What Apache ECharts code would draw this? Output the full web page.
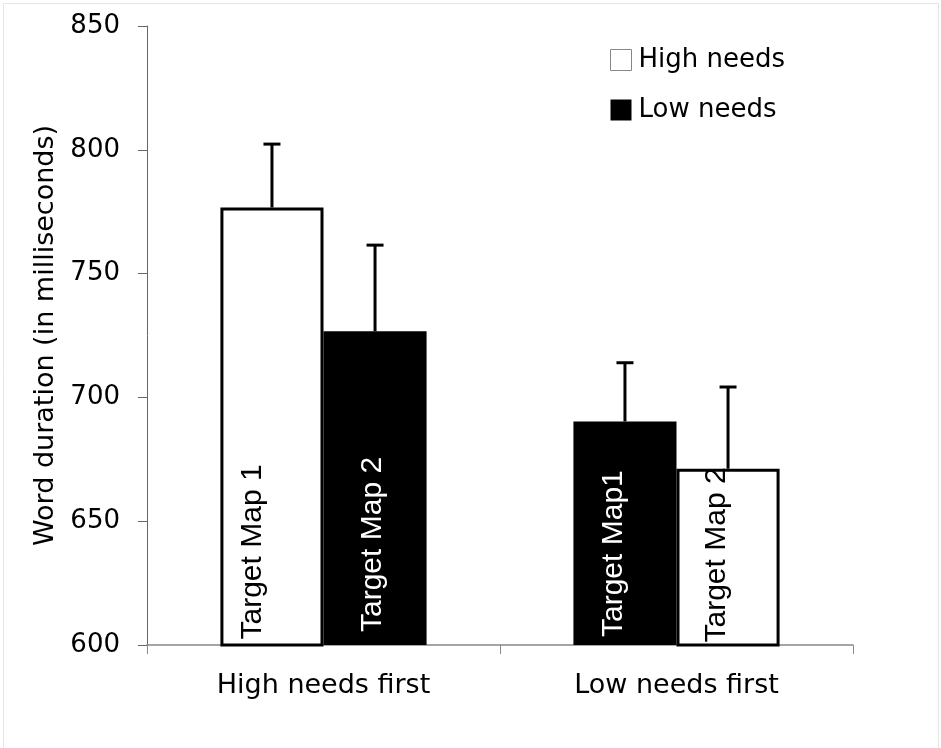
<!DOCTYPE html>
<html>
<head>
<meta charset="utf-8">
<script src="https://cdn.jsdelivr.net/npm/echarts@6/dist/echarts.min.js"></script>
<style>
html,body{margin:0;padding:0;background:#fff;}
#chart{width:941px;height:748px;}
</style>
</head>
<body>
<div id="chart"></div>
<script>
// ---- data ----
var categories = ['High needs first', 'Low needs first'];
var legendNames = ['High needs', 'Low needs'];
// left bar in each group (Target Map 1) and right bar (Target Map 2)
var map1Values = [776.7, 690.3];
var map1ErrTop = [802.3, 714.0];
var map1Group = ['High needs', 'Low needs'];
var map1Labels = ['Target Map 1', 'Target Map1'];
var map2Values = [726.7, 671.2];
var map2ErrTop = [761.5, 704.2];
var map2Group = ['Low needs', 'High needs'];
var map2Labels = ['Target Map 2', 'Target Map 2'];
var yTicks = [600, 650, 700, 750, 800, 850];

// ---- styles ----
var FONT = 'DejaVu Sans';
var LABEL_FONT = 'Liberation Sans';
var BAR_W = 0.292;
var fillFor = { 'High needs': '#ffffff', 'Low needs': '#000000' };
var textFor = { 'High needs': '#000000', 'Low needs': '#ffffff' };
// label nudges: [along text (up), across text (right)]
var map1Nudge = [[7, -19], [8, -11]];
var map2Nudge = [[13, -2], [4, -11]];

function barItems(values, groups, labels, nudges) {
  return values.map(function (v, i) {
    var g = groups[i];
    return {
      value: v,
      itemStyle: {
        color: fillFor[g],
        borderColor: '#000',
        borderWidth: g === 'High needs' ? 3 : 0
      },
      label: {
        formatter: labels[i],
        color: textFor[g],
        offset: nudges[i]
      }
    };
  });
}

function errItems(values, tops, side) {
  return values.map(function (v, i) { return [i, v, tops[i], side]; });
}

function renderErr(params, api) {
  var cat = api.value(0);
  var base = api.coord([cat, api.value(1)]);
  var top = api.coord([cat, api.value(2)]);
  var band = api.size([1, 0])[0];
  var side = api.value(3);
  var x = base[0] + side * band * BAR_W / 2;
  var style = { stroke: '#000', lineWidth: 3 };
  return {
    type: 'group',
    children: [
      { type: 'line', shape: { x1: x, y1: base[1], x2: x, y2: top[1] }, style: style },
      { type: 'line', shape: { x1: x - 8.5, y1: top[1], x2: x + 8.5, y2: top[1] }, style: style }
    ]
  };
}

var barLabel = {
  show: true,
  position: 'insideBottom',
  rotate: 90,
  align: 'left',
  verticalAlign: 'middle',
  distance: 0,
  fontFamily: LABEL_FONT,
  fontSize: 30
};

var chart = echarts.init(document.getElementById('chart'), null, { renderer: 'canvas' });
chart.setOption({
  backgroundColor: '#ffffff',
  animation: false,
  graphic: [
    { type: 'polyline', shape: { points: [[3.5, 748], [3.5, 3.5], [938.5, 3.5], [938.5, 748]] },
      style: { stroke: '#e6e6e6', lineWidth: 1, fill: null }, silent: true }
  ],
  legend: {
    orient: 'vertical',
    left: 605,
    top: 42,
    itemWidth: 21,
    itemHeight: 21,
    itemGap: 24,
    selectedMode: false,
    textStyle: { fontFamily: FONT, fontSize: 26, color: '#000', padding: [0, 0, 0, 2] },
    data: [
      { name: legendNames[0], icon: 'rect', itemStyle: { color: '#fff', borderColor: '#888', borderWidth: 1, opacity: 1 } },
      { name: legendNames[1], icon: 'rect', itemStyle: { color: '#000', borderWidth: 0, opacity: 1 } }
    ]
  },
  grid: { left: 147, right: 88, top: 26, bottom: 103, containLabel: false },
  xAxis: {
    type: 'category',
    data: categories,
    boundaryGap: true,
    axisLine: { lineStyle: { color: '#888', width: 1.5 } },
    axisTick: { show: true, length: 9, lineStyle: { color: '#888', width: 1 } },
    axisLabel: { fontFamily: FONT, fontSize: 27, color: '#000', margin: 27 },
    splitLine: { show: false }
  },
  yAxis: {
    type: 'value',
    min: yTicks[0],
    max: yTicks[yTicks.length - 1],
    interval: 50,
    name: 'Word duration (in milliseconds)',
    nameLocation: 'middle',
    nameGap: 87,
    nameTextStyle: { fontFamily: FONT, fontSize: 27, color: '#000' },
    axisLine: { show: true, lineStyle: { color: '#666', width: 1 } },
    axisTick: { show: true, length: 9, lineStyle: { color: '#666', width: 1 } },
    axisLabel: { fontFamily: FONT, fontSize: 26, color: '#000', margin: 27 },
    splitLine: { show: false }
  },
  series: [
    {
      name: 'Target Map 1',
      type: 'bar',
      barWidth: (BAR_W * 100) + '%',
      barGap: '0%',
      data: barItems(map1Values, map1Group, map1Labels, map1Nudge),
      label: barLabel,
      z: 2
    },
    {
      name: 'Target Map 2',
      type: 'bar',
      barWidth: (BAR_W * 100) + '%',
      barGap: '0%',
      data: barItems(map2Values, map2Group, map2Labels, map2Nudge),
      label: barLabel,
      z: 2
    },
    { name: legendNames[0], type: 'scatter', data: [], itemStyle: { opacity: 1 } },
    { name: legendNames[1], type: 'scatter', data: [], itemStyle: { opacity: 1 } },
    {
      type: 'custom',
      renderItem: renderErr,
      data: errItems(map1Values, map1ErrTop, -1),
      z: 3,
      silent: true
    },
    {
      type: 'custom',
      renderItem: renderErr,
      data: errItems(map2Values, map2ErrTop, 1),
      z: 3,
      silent: true
    }
  ]
});
</script>
</body>
</html>
